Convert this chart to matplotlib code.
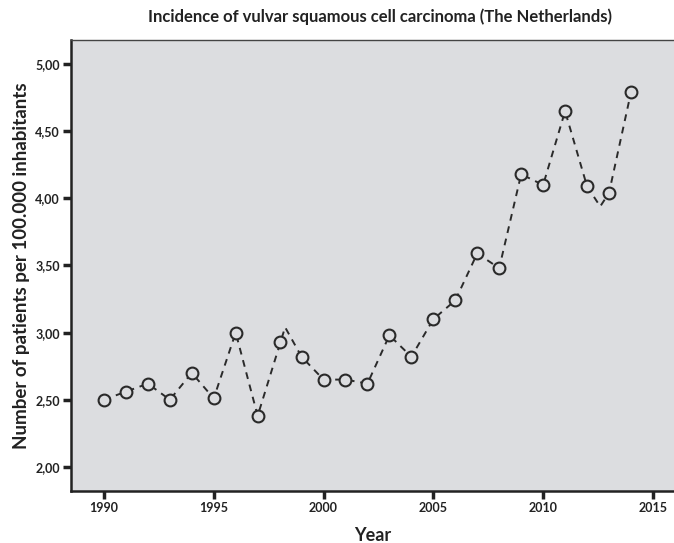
import matplotlib
matplotlib.use("Agg")
import matplotlib.pyplot as plt
from matplotlib.ticker import FuncFormatter

# Data
years = [1990, 1991, 1992, 1993, 1994, 1995, 1996, 1997, 1998, 1999,
         2000, 2001, 2002, 2003, 2004, 2005, 2006, 2007, 2008, 2009,
         2010, 2011, 2012, 2013, 2014]
incidence = [2.50, 2.56, 2.62, 2.50, 2.70, 2.51, 3.00, 2.38, 2.93, 2.82,
             2.65, 2.65, 2.62, 2.98, 2.82, 3.10, 3.24, 3.59, 3.48, 4.18,
             4.10, 4.65, 4.09, 4.04, 4.79]
# dashed line path (its vertices differ slightly from the markers in the source)
line_years = [1990, 1991, 1992, 1993, 1994, 1995, 1996, 1997, 1998.25, 1999,
              2000, 2001, 2002, 2003, 2004, 2005, 2006, 2007, 2008, 2009,
              2010, 2011, 2012, 2012.6, 2013, 2014]
line_values = [2.50, 2.56, 2.62, 2.50, 2.70, 2.51, 3.00, 2.38, 3.04, 2.82,
               2.65, 2.65, 2.62, 2.98, 2.82, 3.10, 3.24, 3.59, 3.48, 4.18,
               4.10, 4.65, 4.09, 3.94, 4.04, 4.79]
x_ticks = [1990, 1995, 2000, 2005, 2010, 2015]
y_ticks = [2.0, 2.5, 3.0, 3.5, 4.0, 4.5, 5.0]

plt.rcParams['font.family'] = ['Lato', 'DejaVu Sans']

fig = plt.figure(figsize=(6.74, 5.43), dpi=100)
ax = fig.add_axes([71/674, 52/543, (674-71)/674, (491-40)/543])
bg = '#dcdde0'
ax.set_facecolor(bg)

ax.plot(line_years, line_values, linestyle=(0, (3.5, 3.0)), color='#2a2a2a', linewidth=1.4, zorder=2)
ax.plot(years, incidence, linestyle='none', marker='o', markersize=8.5,
        markerfacecolor=bg, markeredgecolor='#2a2a2a', markeredgewidth=1.5, zorder=3)

ax.set_xlim(1988.5, 2015.96)
ax.set_ylim(1.82, 5.18)
ax.set_xticks(x_ticks)
ax.set_yticks(y_ticks)
ax.yaxis.set_major_formatter(FuncFormatter(lambda v, p: f"{v:.2f}".replace('.', ',')))

for s in ['left', 'bottom']:
    ax.spines[s].set_linewidth(1.8)
    ax.spines[s].set_color('#222222')
ax.spines['top'].set_linewidth(1.0)
ax.spines['top'].set_color('#444444')
ax.spines['right'].set_visible(False)

ax.tick_params(axis='both', direction='out', length=6, width=2.5, color='#222222',
               labelsize=9, pad=2)
for lab in ax.get_xticklabels() + ax.get_yticklabels():
    lab.set_fontweight('bold')
    lab.set_color('#222222')

ax.set_xlabel('Year', fontsize=13, fontweight='bold', labelpad=9, color='#222222')
ax.set_ylabel('Number of patients per 100.000 inhabitants', fontsize=13.5,
              fontweight='bold', labelpad=4, color='#222222')
fig.text(0.5 + 43/674, 1 - 17/543, 'Incidence of vulvar squamous cell carcinoma (The Netherlands)',
         ha='center', va='center', fontsize=12, fontweight='bold', color='#222222')

fig.savefig('out.png', dpi=100)
